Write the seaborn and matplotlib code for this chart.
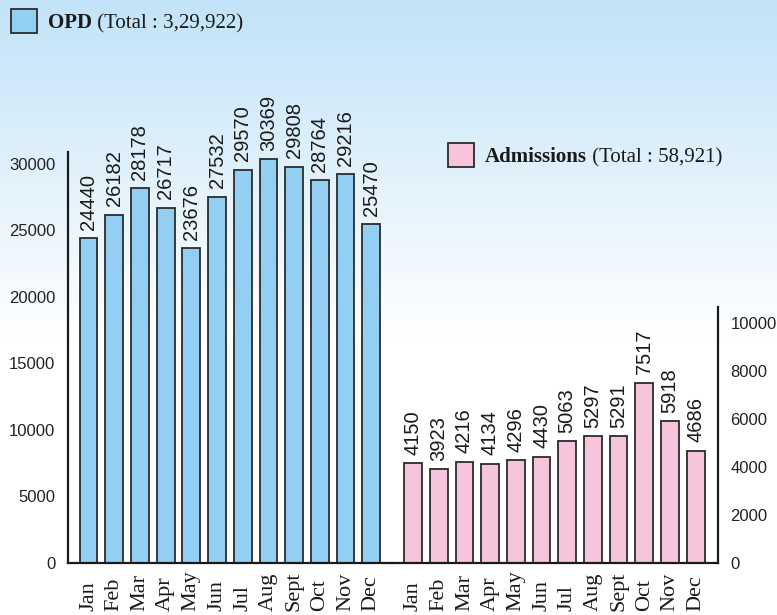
import numpy as np
import matplotlib
matplotlib.use("Agg")
import matplotlib.pyplot as plt
import matplotlib.transforms as mtransforms
from matplotlib.patches import Rectangle
import seaborn as sns

months = ["Jan", "Feb", "Mar", "Apr", "May", "Jun",
          "Jul", "Aug", "Sept", "Oct", "Nov", "Dec"]
opd = [24440, 26182, 28178, 26717, 23676, 27532,
       29570, 30369, 29808, 28764, 29216, 25470]
admissions = [4150, 3923, 4216, 4134, 4296, 4430,
              5063, 5297, 5291, 7517, 5918, 4686]
opd_ticks = [0, 5000, 10000, 15000, 20000, 25000, 30000]
adm_ticks = [0, 2000, 4000, 6000, 8000, 10000]

blue = "#93cff2"
pink = "#f6c5dc"
edge = "#2b2b2b"
narrow = ["Liberation Sans Narrow", "Liberation Sans", "DejaVu Sans"]
sans = ["Liberation Sans", "DejaVu Sans"]
serif = ["Liberation Serif", "DejaVu Serif"]

sns.set_style("white")
plt.rcParams["font.family"] = sans

W, H = 777, 615
fig = plt.figure(figsize=(W / 100, H / 100), dpi=100)

# background gradient, light blue at top fading to white
bg = fig.add_axes([0, 0, 1, 1], zorder=-1)
rows = np.linspace(0, 1, 300)
fade = np.clip(rows / 0.55, 0, 1)[:, None]
top = np.array([194, 227, 248]) / 255
grad = top[None, :] * (1 - fade) + np.ones(3)[None, :] * fade
bg.imshow(grad[:, None, :], aspect="auto", extent=[0, 1, 1, 0])
bg.set_axis_off()


def box(x0, y0, x1, y1):
    return [x0 / W, 1 - y1 / H, (x1 - x0) / W, (y1 - y0) / H]


ax1 = fig.add_axes(box(68, 152, 392, 563))
ax2 = fig.add_axes(box(392, 307, 718, 563))

sns.barplot(x=months, y=opd, ax=ax1, color=blue, saturation=1,
            edgecolor=edge, linewidth=1.3, width=0.69)
sns.barplot(x=months, y=admissions, ax=ax2, color=pink, saturation=1,
            edgecolor=edge, linewidth=1.3, width=0.69)

ax1.set_xlim(-0.8, 11.81)
ax1.set_ylim(0, 30000 * 411 / 399)
ax2.set_xlim(-0.82, 11.87)
ax2.set_ylim(0, 10667)

for ax in (ax1, ax2):
    ax.set_facecolor("none")
    ax.set_xlabel("")
    ax.set_ylabel("")
    ax.set_xticks(range(len(months)))
    ax.set_xticklabels([])
    ax.tick_params(length=0)
    for s in ax.spines.values():
        s.set_color("#1a1a1a")
        s.set_linewidth(1.6)
    ax.spines["top"].set_visible(False)
    # month names, aligned at the bottom of the figure
    trans = mtransforms.blended_transform_factory(ax.transData, fig.transFigure)
    for i, m in enumerate(months):
        ax.text(i, 4 / H, m, rotation=90, ha="center", va="bottom",
                transform=trans, family=serif, fontsize=16, color="#1a1a1a")

ax1.spines["right"].set_visible(False)
ax2.spines["left"].set_visible(False)
ax1.set_yticks(opd_ticks)
ax1.set_yticklabels([str(t) for t in opd_ticks], fontsize=12, color="#222222")
ax1.tick_params(axis="y", pad=9)
ax2.yaxis.tick_right()
ax2.set_yticks(adm_ticks)
ax2.set_yticklabels([str(t) for t in adm_ticks], fontsize=12, color="#222222")
ax2.tick_params(axis="y", pad=9)

for ax, vals in ((ax1, opd), (ax2, admissions)):
    for i, v in enumerate(vals):
        ax.annotate(str(v), (i, v), xytext=(0, 6), textcoords="offset points",
                    rotation=90, ha="center", va="bottom", fontsize=14.5,
                    family=narrow, color="#1a1a1a", annotation_clip=False)

# legend-style headers
heads = [((11, 9), blue, "OPD", " (Total : 3,29,922)"),
         ((448, 143), pink, "Admissions", " (Total : 58,921)")]
for (x0, y0), fc, bold, rest in heads:
    fig.patches.append(Rectangle((x0 / W, 1 - (y0 + 24) / H), 26 / W, 24 / H,
                                 transform=fig.transFigure, facecolor=fc,
                                 edgecolor=edge, linewidth=1.3))
    t = fig.text((x0 + 37) / W, 1 - (y0 + 19) / H, bold, family=serif,
                 fontweight="bold", fontsize=15, color="#1a1a1a", va="baseline")
    fig.add_artist(plt.Annotation(rest, xy=(1, 0), xycoords=t,
                                  va="bottom", ha="left", family=serif,
                                  fontsize=15, color="#1a1a1a"))

fig.savefig("out.png", dpi=100)
